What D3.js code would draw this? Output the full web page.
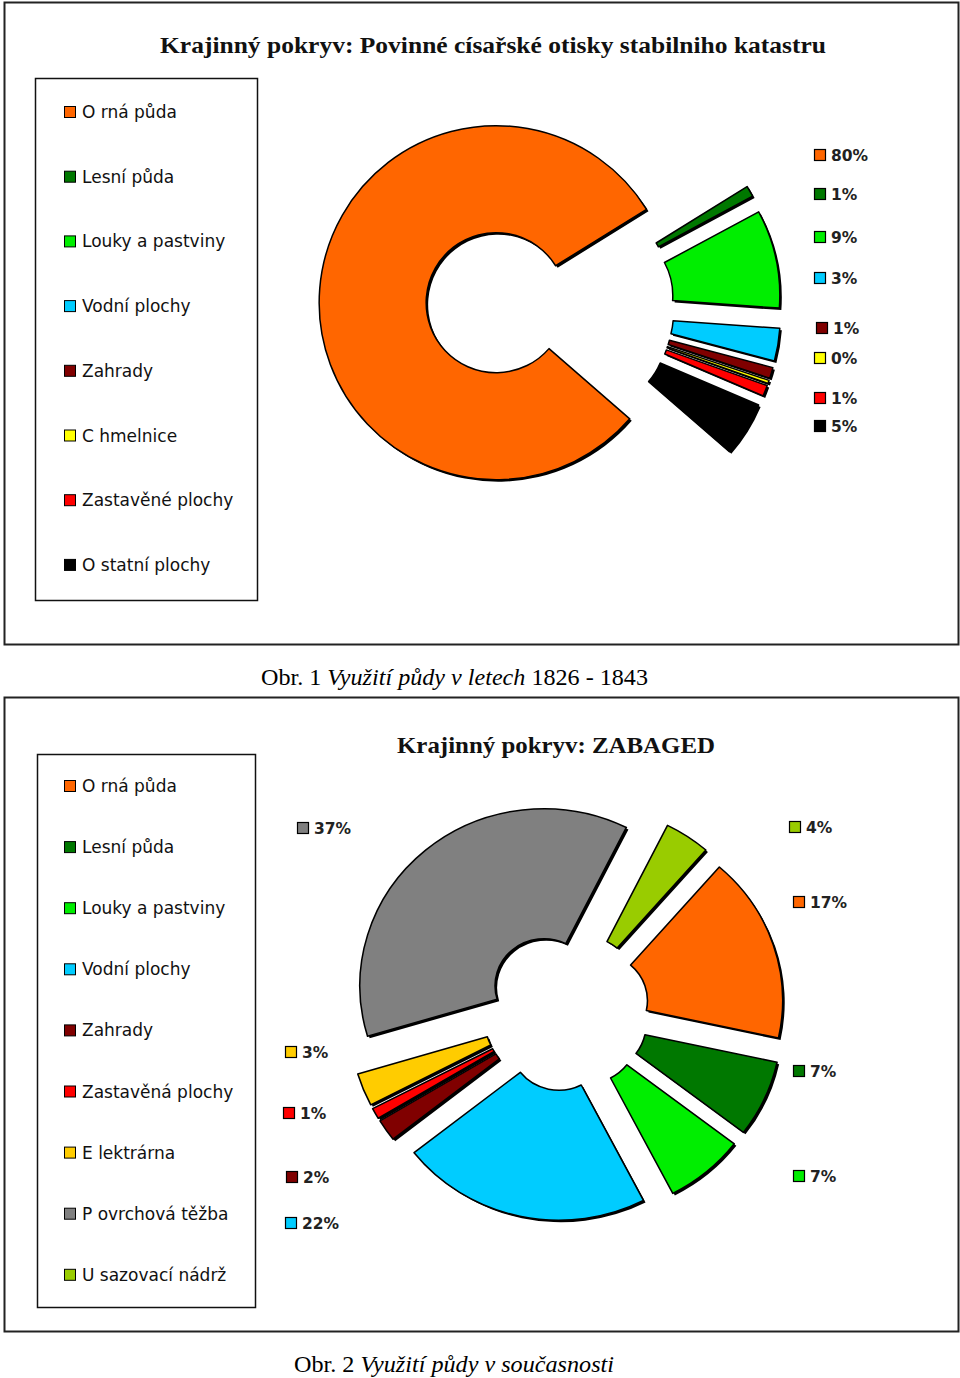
<!DOCTYPE html>
<html><head><meta charset="utf-8">
<script src="https://cdn.jsdelivr.net/npm/d3@7"></script>
<style>body{margin:0;background:#fff}</style>
</head><body>
<svg id="c" width="960" height="1378"></svg>
<script>
// ---------- data: chart 1 ----------
const title1 = "Krajinný pokryv: Povinné císařské otisky stabilniho katastru";
const cats1 = ["O rná půda","Lesní půda","Louky a pastviny","Vodní plochy","Zahrady","C hmelnice","Zastavěné plochy","O statní plochy"];
const vals1 = [80, 1, 9, 3, 1, 0.3, 1, 5];
const cols1 = ["#ff6600","#007800","#00ee00","#00ccff","#800000","#ffff00","#ff0000","#000000"];
// ---------- data: chart 2 ----------
const title2 = "Krajinný pokryv: ZABAGED";
const cats2 = ["O rná půda","Lesní půda","Louky a pastviny","Vodní plochy","Zahrady","Zastavěná plochy","E lektrárna","P ovrchová těžba","U sazovací nádrž"];
const vals2 = [17, 7, 7, 22, 2, 1, 3, 37, 4];
const cols2 = ["#ff6600","#007800","#00ee00","#00ccff","#800000","#ff0000","#ffcc00","#808080","#99cc00"];
// captions
const cap1 = [["Obr. 1 ","normal"],["Využití půdy v letech ","italic"],["1826 - 1843","normal"]];
const cap2 = [["Obr. 2 ","normal"],["Využití půdy v současnosti","italic"]];

// ---------- layout ----------
const L1 = {frame:[4,2,954,642], title:[493,53,666], legend:[35,78,222,522], legY0:112, legStep:64.7,
  cx:550, cy:307, r0:70, r1:177, d:54, start:131, sx:1,
  valPos:[[814,155],[814,194],[814,237],[814,278],[816,328],[814,358],[814,398],[814,426]]};
const L2 = {frame:[4,697,954,634], title:[556,753,318], legend:[37,754,218,553], legY0:786, legStep:61.1,
  cx:566, cy:1011, r0:47, r1:177, d:33, start:41, sx:1.04,
  valPos:[[793,902],[793,1071],[793,1176],[285,1223],[286,1177],[283,1113],[285,1052],[297,828],[789,827]]};

const svg = d3.select("#c");

function drawChart(L, title, cats, vals, cols){
  const g = svg.append("g");
  const [fx,fy,fw,fh] = L.frame;
  g.append("rect").attr("x",fx+0.5).attr("y",fy+0.5).attr("width",fw).attr("height",fh)
    .attr("fill","#fff").attr("stroke","#222").attr("stroke-width",2);
  g.append("text").attr("x",L.title[0]).attr("y",L.title[1]).attr("text-anchor","middle")
    .attr("font-family","Liberation Serif").attr("font-weight","bold").attr("font-size",23)
    .attr("textLength",L.title[2]).attr("lengthAdjust","spacingAndGlyphs").attr("fill","#111").text(title);
  // legend
  const [lx,ly,lw,lh] = L.legend;
  g.append("rect").attr("x",lx+0.5).attr("y",ly+0.5).attr("width",lw).attr("height",lh)
    .attr("fill","#fff").attr("stroke","#111").attr("stroke-width",1.5);
  const yl = d3.scaleLinear().domain([0,1]).range([L.legY0, L.legY0+L.legStep]);
  const items = g.selectAll("g.leg").data(cats).enter().append("g").attr("class","leg")
    .attr("transform",(d,i)=>`translate(0,${yl(i)})`);
  items.append("rect").attr("x",64.5).attr("y",-5.5).attr("width",11).attr("height",11)
    .attr("fill",(d,i)=>cols[i]).attr("stroke","#000").attr("stroke-width",1);
  items.append("text").attr("x",82).attr("y",6).attr("font-family","DejaVu Sans").attr("font-size",17)
    .attr("fill","#111").text(d=>d);
  // pie
  const a0 = L.start*Math.PI/180;
  const pie = d3.pie().sort(null).value(v=>v).startAngle(a0).endAngle(a0+2*Math.PI);
  const arcs = pie(vals);
  const arc = d3.arc().innerRadius(L.r0).outerRadius(L.r1);
  const root = g.append("g").attr("transform",`translate(${L.cx},${L.cy}) scale(${L.sx},1)`);
  const off = a => { const m=(a.startAngle+a.endAngle)/2; return [L.d*Math.sin(m), -L.d*Math.cos(m)]; };
  root.selectAll("path.sh").data(arcs).enter().append("path").attr("class","sh")
    .attr("d",arc).attr("transform",a=>{const o=off(a);return `translate(${o[0]+2},${o[1]+2})`;})
    .attr("fill","#000");
  root.selectAll("path.sl").data(arcs).enter().append("path").attr("class","sl")
    .attr("d",arc).attr("transform",a=>{const o=off(a);return `translate(${o[0]},${o[1]})`;})
    .attr("fill",(a,i)=>cols[i]).attr("stroke","#000").attr("stroke-width",1.5).attr("stroke-linejoin","round");
  // value labels
  const total = d3.sum(vals);
  const vl = g.selectAll("g.val").data(arcs).enter().append("g").attr("class","val")
    .attr("transform",(a,i)=>`translate(${L.valPos[i][0]},${L.valPos[i][1]})`);
  vl.append("rect").attr("x",0.5).attr("y",-5.5).attr("width",11).attr("height",11)
    .attr("fill",(a,i)=>cols[i]).attr("stroke","#000").attr("stroke-width",1.2);
  vl.append("text").attr("x",17).attr("y",6).attr("font-family","DejaVu Sans").attr("font-weight","bold")
    .attr("font-size",15.5).attr("fill","#222").text(a=>Math.round(a.value/total*100)+"%");
}

drawChart(L1, title1, cats1, vals1, cols1);
drawChart(L2, title2, cats2, vals2, cols2);

function caption(parts, x, y, len){
  const t = svg.append("text").attr("x",x).attr("y",y).attr("font-family","Liberation Serif")
    .attr("font-size",23).attr("fill","#000").attr("textLength",len).attr("lengthAdjust","spacingAndGlyphs");
  parts.forEach(p=>t.append("tspan").attr("font-style",p[1]).text(p[0]));
}
caption(cap1, 261, 685, 387);
caption(cap2, 294, 1372, 320);
</script>
</body></html>
